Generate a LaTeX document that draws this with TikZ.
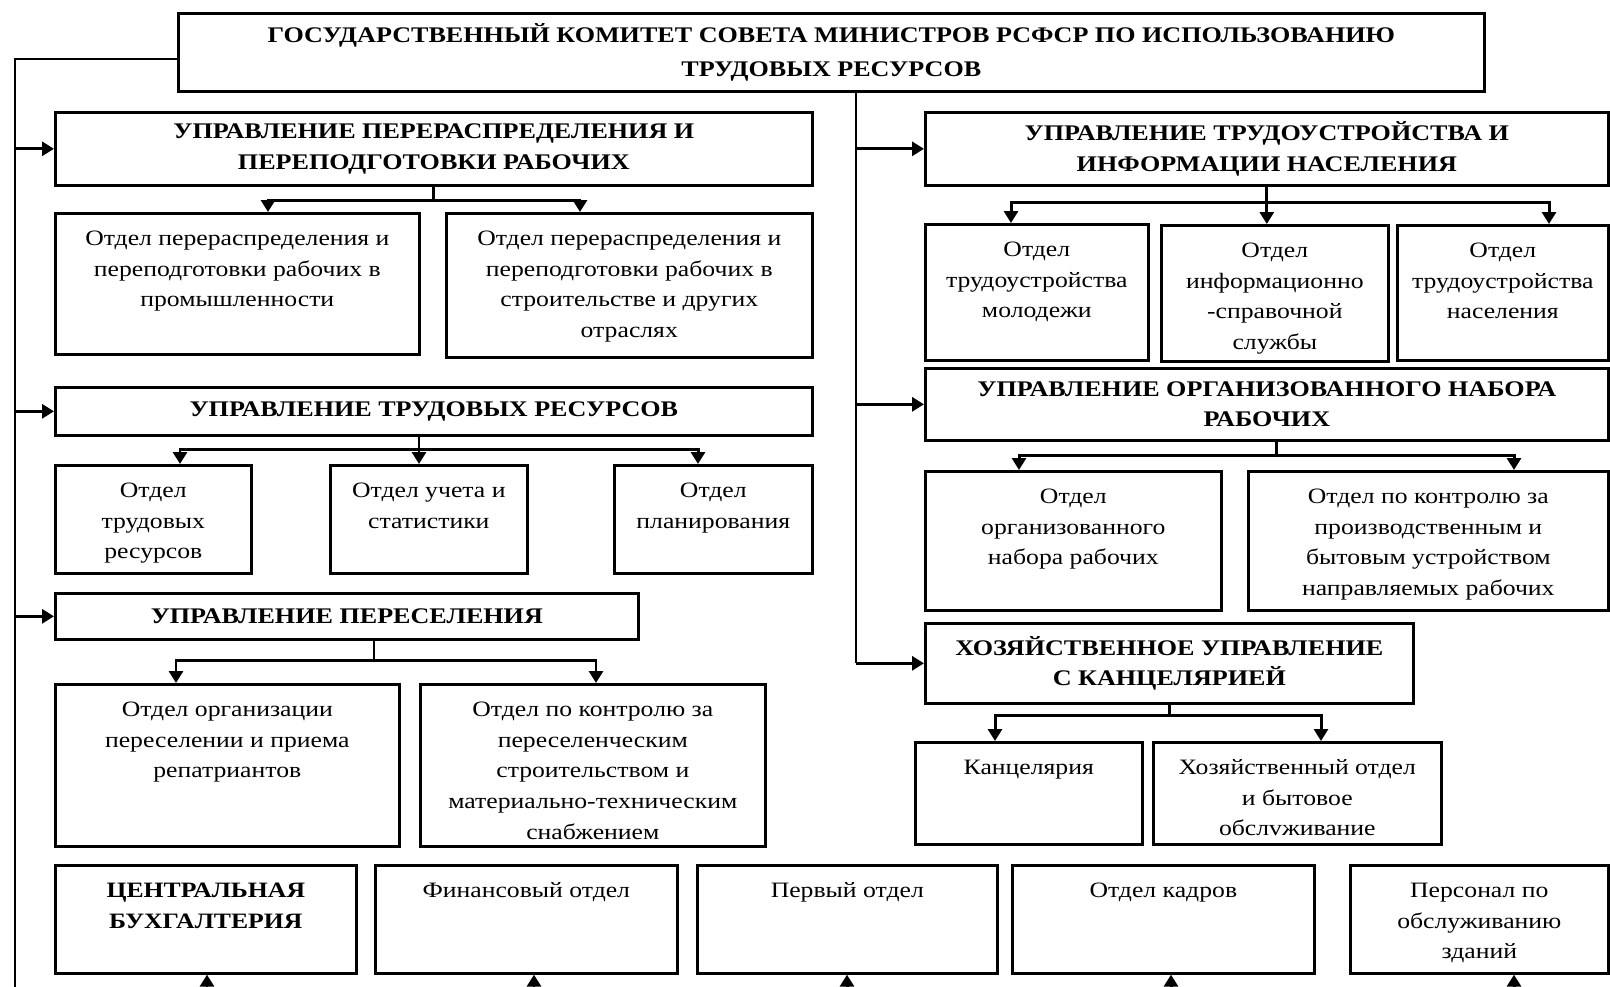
\documentclass[tikz,border=0pt]{standalone}
\usepackage{fontspec}
\setmainfont{Liberation Serif}[FakeStretch=1.17]
\usepackage{tikz}
\usetikzlibrary{arrows.meta}

\tikzset{
  box/.style={draw, line width=1.5pt, inner sep=0pt, anchor=north west},
  upr/.style={box, align=center, font=\bfseries\fontsize{12.7}{17.4}\selectfont},
  otdel/.style={box, font=\fontsize{12.5}{17.4}\selectfont},
  link/.style={line width=1.7pt},
  arr/.style={line width=1.7pt, -{Triangle[length=0.24cm, width=0.28cm]}}
}

% name, x1, y1, x2, y2, text
\newcommand{\upr}[7][]{%
  \pgfmathsetlengthmacro{\bxw}{(#5-#3)*0.02cm}%
  \pgfmathsetlengthmacro{\bxh}{(#6-#4)*0.02cm}%
  \node[upr, #1, minimum width=\bxw, minimum height=\bxh] (#2) at (#3,#4) {#7};}
\newcommand{\otd}[6]{%
  \pgfmathsetlengthmacro{\bxw}{(#4-#2)*0.02cm}%
  \pgfmathsetlengthmacro{\bxh}{(#5-#3)*0.02cm}%
  \node[otdel, minimum width=\bxw, minimum height=\bxh] (#1) at (#2,#3)
    {\parbox[t][\bxh][t]{\bxw}{\centering\vspace*{0.22cm}\strut #6}};}

\begin{document}
\begin{tikzpicture}[x=0.02cm, y=-0.02cm]
  \useasboundingbox (0,0) rectangle (1610,987);

  \upr[font=\bfseries\fontsize{12.7}{19.2}\selectfont]{top}{177}{12}{1483}{90}{ГОСУДАРСТВЕННЫЙ КОМИТЕТ СОВЕТА МИНИСТРОВ РСФСР ПО ИСПОЛЬЗОВАНИЮ\\ТРУДОВЫХ РЕСУРСОВ}

  \upr{u1}{54}{111}{811}{184}{УПРАВЛЕНИЕ ПЕРЕРАСПРЕДЕЛЕНИЯ И\\ПЕРЕПОДГОТОВКИ РАБОЧИХ}
  \otd{a1}{54}{212}{418}{353}{Отдел перераспределения и\\переподготовки рабочих в\\промышленности}
  \otd{a2}{445}{212}{811}{356}{Отдел перераспределения и\\переподготовки рабочих в\\строительстве и других\\отраслях}
  \upr{u2}{54}{386}{811}{434}{УПРАВЛЕНИЕ ТРУДОВЫХ РЕСУРСОВ}
  \otd{d1}{54}{464}{250}{572}{Отдел\\трудовых\\ресурсов}
  \otd{d2}{329}{464}{526}{572}{Отдел учета и\\статистики}
  \otd{d3}{613}{464}{811}{572}{Отдел\\планирования}
  \upr{u3}{54}{592}{637}{638}{УПРАВЛЕНИЕ ПЕРЕСЕЛЕНИЯ}
  \otd{e1}{54}{683}{398}{845}{Отдел организации\\переселении и приема\\репатриантов}
  \otd{e2}{419}{683}{764}{845}{Отдел по контролю за\\переселенческим\\строительством и\\материально-техническим\\снабжением}

  \upr{r1}{924}{111}{1607}{184}{УПРАВЛЕНИЕ ТРУДОУСТРОЙСТВА И\\ИНФОРМАЦИИ НАСЕЛЕНИЯ}
  \otd{c1}{924}{223}{1147}{359}{Отдел\\трудоустройства\\молодежи}
  \otd{c2}{1160}{224}{1387}{360}{Отдел\\информационно\\-справочной\\службы}
  \otd{c3}{1396}{224}{1607}{359}{Отдел\\трудоустройства\\населения}
  \upr{r2}{924}{367}{1607}{439}{УПРАВЛЕНИЕ ОРГАНИЗОВАННОГО НАБОРА\\РАБОЧИХ}
  \otd{h1}{924}{470}{1220}{609}{Отдел\\организованного\\набора рабочих}
  \otd{h2}{1247}{470}{1607}{609}{Отдел по контролю за\\производственным и\\бытовым устройством\\направляемых рабочих}
  \upr{r3}{924}{622}{1412}{702}{ХОЗЯЙСТВЕННОЕ УПРАВЛЕНИЕ\\С КАНЦЕЛЯРИЕЙ}
  \otd{g1}{914}{741}{1141}{843}{Канцелярия}
  \otd{g2}{1152}{741}{1440}{843}{Хозяйственный отдел\\и бытовое\\обслvживание}

  \otd{f1}{54}{864}{355}{972}{\bfseries ЦЕНТРАЛЬНАЯ\\БУХГАЛТЕРИЯ}
  \otd{f2}{374}{864}{676}{972}{Финансовый отдел}
  \otd{f3}{696}{864}{996}{972}{Первый отдел}
  \otd{f4}{1011}{864}{1313}{972}{Отдел кадров}
  \otd{f5}{1349}{864}{1607}{972}{Персонал по\\обслуживанию\\зданий}

  % trunks
  \coordinate (lt) at (15,987);
  \coordinate (rt) at (top.south -| 856,0);
  \draw[link] (top.west |- 0,59) -| (lt);
  \draw[arr] (lt |- u1.west) -- (u1.west);
  \draw[arr] (lt |- u2.west) -- (u2.west);
  \draw[arr] (lt |- u3.west) -- (u3.west);
  \draw[link, line width=1.1pt] (rt) -- (rt |- r3.west);
  \draw[arr] (rt |- r1.west) -- (r1.west);
  \draw[arr] (rt |- r2.west) -- (r2.west);
  \draw[arr] (rt |- r3.west) -- (r3.west);

  \draw[arr] (u1.south) -- ++(0,14) -| (a1.north -| 268,0);
  \draw[arr] (u1.south) -- ++(0,14) -| (a2.north -| 580,0);
  \draw[arr] (419,0 |- u2.south) -- (419,0 |- d2.north);
  \draw[arr] (419,0 |- u2.south) -- ++(0,13) -| (d1.north -| 180,0);
  \draw[arr] (419,0 |- u2.south) -- ++(0,13) -| (d3.north -| 698,0);
  \draw[arr] (374,0 |- u3.south) -- ++(0,20) -| (e1.north -| 176,0);
  \draw[arr] (374,0 |- u3.south) -- ++(0,20) -| (e2.north -| 596,0);

  \draw[arr] (r1.south) -- (r1.south |- c2.north);
  \draw[arr] (r1.south) -- ++(0,16) -| (c1.north -| 1011,0);
  \draw[arr] (r1.south) -- ++(0,16) -| (c3.north -| 1549,0);
  \draw[arr] (1276,0 |- r2.south) -- ++(0,14) -| (h1.north -| 1019,0);
  \draw[arr] (1276,0 |- r2.south) -- ++(0,14) -| (h2.north -| 1514,0);
  \draw[arr] (r3.south) -- ++(0,11) -| (g1.north -| 995,0);
  \draw[arr] (r3.south) -- ++(0,11) -| (g2.north -| 1321,0);

  \foreach \n/\x in {f1/207, f2/534, f3/847, f4/1171, f5/1514}
    \draw[arr] (\x,0 |- lt) -- (\x,0 |- \n.south);
\end{tikzpicture}
\end{document}
